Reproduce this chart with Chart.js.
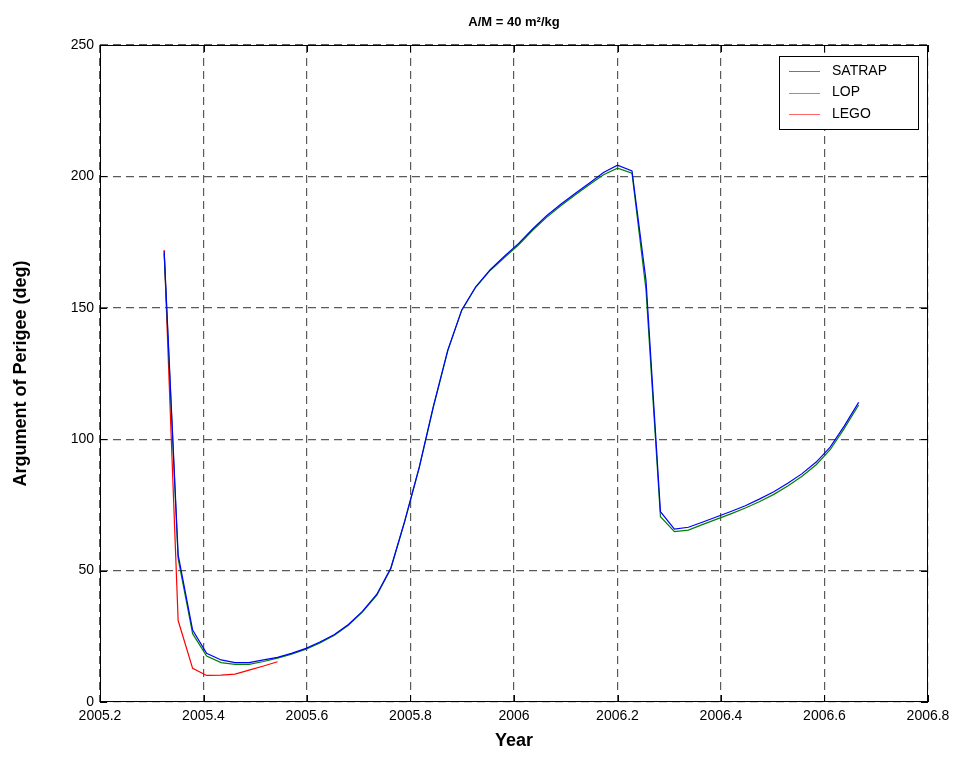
<!DOCTYPE html>
<html>
<head>
<meta charset="utf-8">
<title>Argument of Perigee</title>
<script src="https://cdn.jsdelivr.net/npm/chart.js@4/dist/chart.umd.min.js"></script>
<style>
  html, body { margin: 0; padding: 0; background: #fff; }
  #wrap { width: 959px; height: 767px; position: relative; }
</style>
</head>
<body>
<div id="wrap"><canvas id="c" width="959" height="767"></canvas></div>
<script>
// Epochs (years), one sample every 10 days
const years = [
  2005.324, 2005.351, 2005.379, 2005.406, 2005.434, 2005.461, 2005.488, 2005.516, 2005.543, 2005.570,
  2005.598, 2005.625, 2005.653, 2005.680, 2005.707, 2005.735, 2005.762, 2005.789, 2005.817, 2005.844,
  2005.872, 2005.899, 2005.926, 2005.954, 2005.981, 2006.009, 2006.036, 2006.063, 2006.091, 2006.118,
  2006.146, 2006.173, 2006.200, 2006.228, 2006.255, 2006.283, 2006.310, 2006.337, 2006.365, 2006.392,
  2006.419, 2006.447, 2006.474, 2006.502, 2006.529, 2006.556, 2006.584, 2006.611, 2006.638, 2006.666
];

// Argument of perigee (deg) from each propagator
const satrap = [
  171.5, 56.0, 27.4, 18.5, 16.0, 15.0, 15.0, 16.0, 17.0, 18.5,
  20.4, 22.8, 25.7, 29.5, 34.5, 41.0, 51.0, 69.0, 89.5, 112.4,
  133.9, 149.2, 158.0, 164.5, 169.5, 174.5, 180.0, 185.0, 189.5, 193.5,
  197.5, 201.5, 204.3, 202.1, 160.6, 72.4, 65.8, 66.5, 68.5, 70.5,
  72.5, 74.7, 77.2, 80.0, 83.2, 86.8, 91.3, 97.0, 105.0, 114.0
];
const lop = [
  170.5, 54.5, 26.0, 17.5, 15.0, 14.3, 14.3, 15.4, 16.7, 18.2,
  20.1, 22.5, 25.4, 29.2, 34.2, 40.7, 50.7, 68.7, 89.2, 112.0,
  133.6, 149.0, 157.8, 164.2, 169.0, 174.0, 179.5, 184.4, 188.9, 192.9,
  196.9, 200.6, 203.1, 201.2, 157.0, 70.5, 64.8, 65.4, 67.6, 69.6,
  71.6, 73.8, 76.2, 79.0, 82.2, 85.8, 90.3, 96.0, 104.0, 113.0
];
const lego = [172.0, 31.0, 12.8, 10.1, 10.2, 10.6, 12.1, 13.7, 15.3];

const seriesNames = ['SATRAP', 'LOP', 'LEGO'];
const seriesColors = ['#0000ff', '#008000', '#ff0000'];

const xTicks = [2005.2, 2005.4, 2005.6, 2005.8, 2006, 2006.2, 2006.4, 2006.6, 2006.8];
const yTicks = [0, 50, 100, 150, 200, 250];

const toPoints = (xs, ys) => ys.map((v, i) => ({ x: xs[i], y: v }));

const FONT = '"Liberation Sans", Arial, Helvetica, sans-serif';

// Box, inward ticks, legend and titles drawn on top of the plot
const framePlugin = {
  id: 'frame',
  afterDraw(chart) {
    const ctx = chart.ctx;
    const a = chart.chartArea;
    const xs = chart.scales.x, ys = chart.scales.y;
    ctx.save();
    ctx.strokeStyle = '#000';
    ctx.lineWidth = 1;
    ctx.setLineDash([]);
    ctx.strokeRect(a.left + 0.5, a.top + 0.5, a.right - a.left - 1, a.bottom - a.top - 1);
    const tl = 7;
    ctx.beginPath();
    xTicks.forEach(v => {
      const px = Math.round(xs.getPixelForValue(v)) + 0.5;
      ctx.moveTo(px, a.bottom); ctx.lineTo(px, a.bottom - tl);
      ctx.moveTo(px, a.top); ctx.lineTo(px, a.top + tl);
    });
    yTicks.forEach(v => {
      const py = Math.round(ys.getPixelForValue(v)) + 0.5;
      ctx.moveTo(a.left, py); ctx.lineTo(a.left + tl, py);
      ctx.moveTo(a.right, py); ctx.lineTo(a.right - tl, py);
    });
    ctx.stroke();

    // legend box
    const lx = 779, ly = 56, lw = 139, lh = 73;
    ctx.fillStyle = '#fff';
    ctx.fillRect(lx, ly, lw, lh);
    ctx.strokeStyle = '#000';
    ctx.strokeRect(lx + 0.5, ly + 0.5, lw, lh);
    ctx.font = '14px ' + FONT;
    ctx.textBaseline = 'middle';
    ctx.textAlign = 'left';
    chart.data.datasets.forEach((ds, i) => {
      const yy = ly + 15 + i * 21.5;
      ctx.strokeStyle = ds.borderColor;
      ctx.globalAlpha = 0.6;
      ctx.beginPath();
      ctx.moveTo(lx + 10, Math.round(yy) + 0.5);
      ctx.lineTo(lx + 41, Math.round(yy) + 0.5);
      ctx.stroke();
      ctx.globalAlpha = 1;
      ctx.fillStyle = '#000';
      ctx.fillText(ds.label, lx + 53, yy);
    });

    // titles
    ctx.fillStyle = '#000';
    ctx.textAlign = 'center';
    ctx.font = 'bold 13px ' + FONT;
    ctx.fillText('A/M = 40 m\u00b2/kg', (a.left + a.right) / 2, 22);
    ctx.font = 'bold 18px ' + FONT;
    ctx.fillText('Year', (a.left + a.right) / 2, 741);
    ctx.translate(21, (a.top + a.bottom) / 2);
    ctx.rotate(-Math.PI / 2);
    ctx.fillText('Argument of Perigee (deg)', 0, 0);
    ctx.restore();
  }
};

const gridStyle = { color: '#5a5a5a', lineWidth: 1.2, drawTicks: false };
const borderStyle = { display: false, dash: [8, 5] };

new Chart(document.getElementById('c'), {
  type: 'line',
  data: {
    datasets: [
      { label: seriesNames[0], data: toPoints(years, satrap), borderColor: seriesColors[0] },
      { label: seriesNames[1], data: toPoints(years, lop), borderColor: seriesColors[1] },
      { label: seriesNames[2], data: toPoints(years, lego), borderColor: seriesColors[2] }
    ]
  },
  options: {
    responsive: false,
    animation: false,
    elements: {
      line: { borderWidth: 1.2, tension: 0, fill: false },
      point: { radius: 0, hoverRadius: 0 }
    },
    layout: { padding: { left: 0, top: 45, right: 31, bottom: 0 } },
    plugins: { legend: { display: false }, tooltip: { enabled: false }, title: { display: false } },
    scales: {
      x: {
        type: 'linear',
        min: 2005.2, max: 2006.8,
        afterFit(s) { s.height = 65; },
        afterBuildTicks(s) { s.ticks = xTicks.map(v => ({ value: v })); },
        grid: gridStyle,
        border: borderStyle,
        ticks: {
          padding: 6,
          color: '#000',
          font: { family: FONT, size: 14 },
          maxRotation: 0,
          autoSkip: false,
          callback: v => String(Number(v.toFixed(1)))
        }
      },
      y: {
        type: 'linear',
        min: 0, max: 250,
        afterFit(s) { s.width = 100; },
        afterBuildTicks(s) { s.ticks = yTicks.map(v => ({ value: v })); },
        grid: gridStyle,
        border: borderStyle,
        ticks: {
          padding: 6,
          color: '#000',
          font: { family: FONT, size: 14 },
          callback: v => String(v)
        }
      }
    }
  },
  plugins: [framePlugin]
});
</script>
</body>
</html>
